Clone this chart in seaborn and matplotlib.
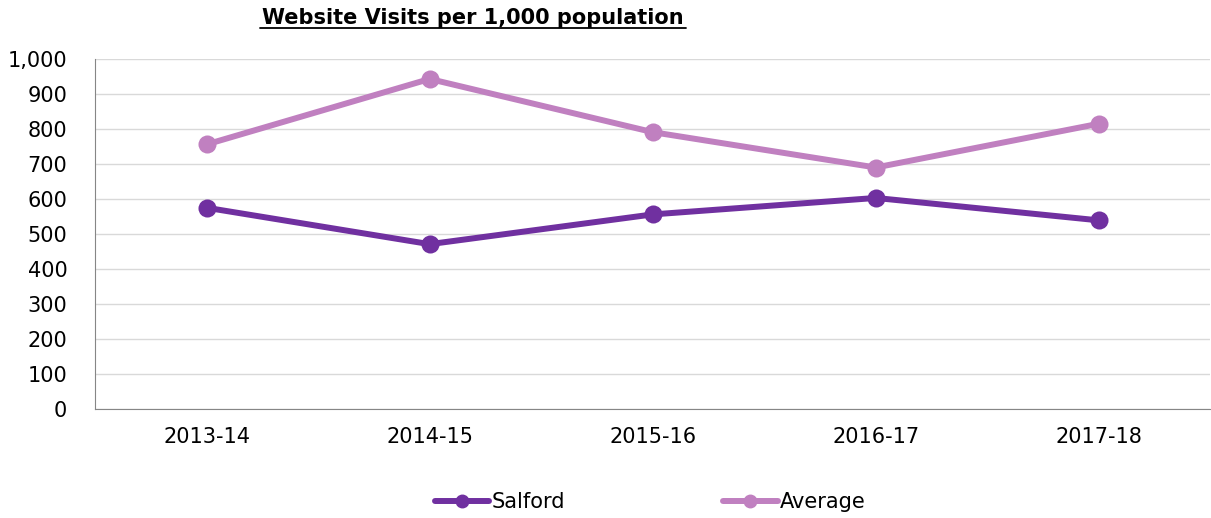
import pandas as pd
import matplotlib.pyplot as plt
import seaborn as sns

# values
years = ["2013-14", "2014-15", "2015-16", "2016-17", "2017-18"]
salford = [575, 471, 556, 603, 539]
average = [756, 943, 791, 690, 815]

df = pd.DataFrame({
    "Year": years * 2,
    "Visits": salford + average,
    "Area": ["Salford"] * len(years) + ["Average"] * len(years),
})

sns.set_style("white")
plt.rcParams["font.family"] = ["DejaVu Sans"]
plt.rcParams["text.color"] = "black"
plt.rcParams["xtick.color"] = "black"
plt.rcParams["ytick.color"] = "black"

fig = plt.figure(figsize=(12.11, 5.18), dpi=100)
ax = fig.add_axes([0.0785, 0.2104, 0.921, 0.6757])

palette = {"Salford": "#7030A0", "Average": "#C080C0"}
sns.lineplot(data=df, x="Year", y="Visits", hue="Area", palette=palette,
             marker="o", markersize=13, markeredgewidth=0, linewidth=4.3,
             sort=False, ax=ax, legend=False)

ax.set_ylim(0, 1000)
ax.set_xlim(-0.5, 4.5)
ax.set_yticks(range(0, 1001, 100))
ax.set_yticklabels([f"{v:,}" for v in range(0, 1001, 100)])
ax.yaxis.grid(True, color="#d9d9d9", linewidth=1)
ax.set_axisbelow(True)
ax.tick_params(axis="both", labelsize=15, length=0)
ax.tick_params(axis="y", pad=20)
ax.tick_params(axis="x", pad=13)
ax.set_xlabel("")
ax.set_ylabel("")
for side in ["top", "right"]:
    ax.spines[side].set_visible(False)
ax.spines["left"].set_color("#868686")
ax.spines["bottom"].set_color("#868686")

fig.text(0.3906, 0.965, "Website Visits per 1,000 population", ha="center",
         va="center", fontsize=15, fontweight="bold")
# underline for the title
fig.add_artist(plt.Line2D([0.2147, 0.5665], [0.946, 0.946], color="black",
                          linewidth=1.3, transform=fig.transFigure))

handles = [plt.Line2D([], [], color=palette[k], marker="o", markersize=9,
                      linewidth=4.3) for k in ["Salford", "Average"]]
fig.legend(handles, ["Salford", "Average"], loc="center", ncol=2,
           bbox_to_anchor=(0.537, 0.03), frameon=False, fontsize=15,
           handlelength=2.6, handletextpad=0.1, columnspacing=7.6)

fig.savefig("out.png", dpi=100)
